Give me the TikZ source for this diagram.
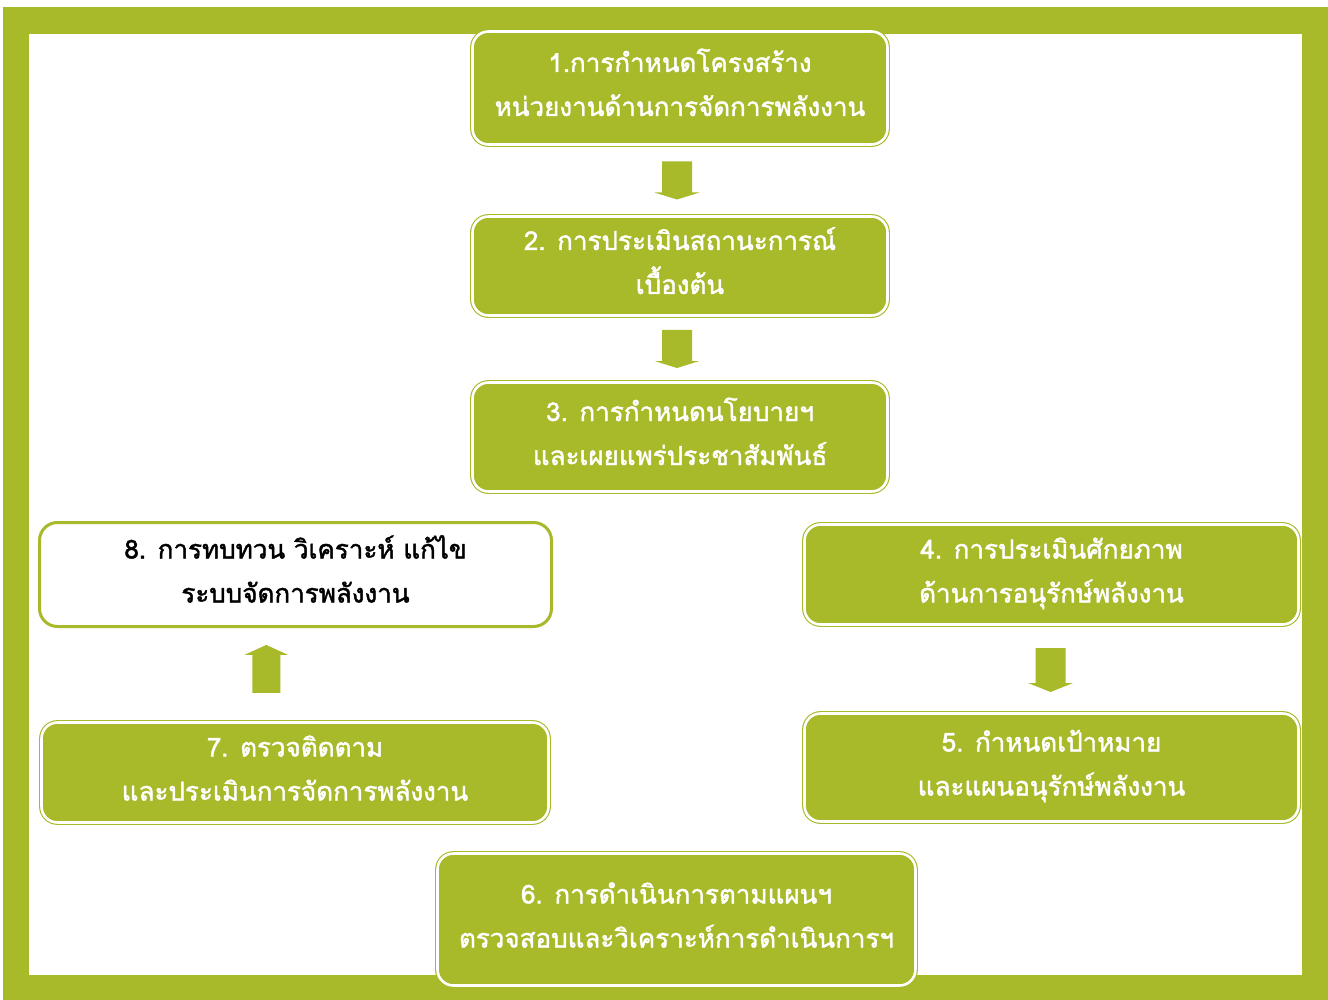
\documentclass[tikz,border=0pt]{standalone}
\usepackage{fontspec}
\usetikzlibrary{calc}
\newfontfamily\thaifont[Script=Thai,FakeBold=1.6]{Loma}
\definecolor{leaf}{RGB}{168,185,41}
\tikzset{
  steptext/.style={align=center, inner sep=0pt, text height=62pt, text depth=6pt,
    font=\thaifont\fontsize{26}{44}\selectfont},
  greenbox/.style={steptext, rounded corners=16pt, draw=leaf, double=white,
    double distance=2.6pt, line width=1.1pt, fill=leaf, text=white},
  whitebox/.style={steptext, rounded corners=18pt, draw=leaf, line width=3pt,
    fill=white, text=black},
  blockfill/.style={fill=leaf, draw=none}
}
% block arrow pointing down: centre c, half length l, head depth h
\newcommand{\downarrowat}[3]{%
  \fill[blockfill] ($(#1)+(-15,-#2)$) -- ($(#1)+(15,-#2)$) -- ($(#1)+(15,#2-#3)$)
    -- ($(#1)+(22.5,#2-#3)$) -- ($(#1)+(0,#2)$) -- ($(#1)+(-22.5,#2-#3)$)
    -- ($(#1)+(-15,#2-#3)$) -- cycle;}
% block arrow pointing up
\newcommand{\uparrowat}[3]{%
  \fill[blockfill] ($(#1)+(-14,#2)$) -- ($(#1)+(14,#2)$) -- ($(#1)+(14,-#2+#3)$)
    -- ($(#1)+(22,-#2+#3)$) -- ($(#1)+(0,-#2)$) -- ($(#1)+(-22,-#2+#3)$)
    -- ($(#1)+(-14,-#2+#3)$) -- cycle;}
\begin{document}
\begin{tikzpicture}[x=1pt,y=-1pt]
  % page and frame
  \fill[white] (0,0) rectangle (1328,1000);
  \fill[leaf] (3,7) rectangle (1328,1000);
  \fill[white] (29,34) rectangle (1302,975);

  % steps
  \node[greenbox, minimum width=415pt, minimum height=113pt] (b1) at (680,88)
    {1.การกำหนดโครงสร้าง\\หน่วยงานด้านการจัดการพลังงาน};
  \node[greenbox, minimum width=415pt, minimum height=99pt] (b2) at (680,266)
    {2. การประเมินสถานะการณ์\\เบื้องต้น};
  \node[greenbox, minimum width=415pt, minimum height=109pt] (b3) at (680,437)
    {3. การกำหนดนโยบายฯ\\และเผยแพร่ประชาสัมพันธ์};
  \node[greenbox, minimum width=494pt, minimum height=100pt] (b4) at (1051.5,574.5)
    {4. การประเมินศักยภาพ\\ด้านการอนุรักษ์พลังงาน};
  \node[greenbox, minimum width=494pt, minimum height=108pt] (b5) at (1051.5,767.5)
    {5. กำหนดเป้าหมาย\\และแผนอนุรักษ์พลังงาน};
  \node[greenbox, minimum width=478pt, minimum height=132pt] (b6) at (676.5,919.5)
    {6. การดำเนินการตามแผนฯ\\ตรวจสอบและวิเคราะห์การดำเนินการฯ};
  \node[greenbox, minimum width=507pt, minimum height=100pt] (b7) at (295,772.5)
    {7. ตรวจติดตาม\\และประเมินการจัดการพลังงาน};
  \node[whitebox, minimum width=512pt, minimum height=104pt] (b8) at (295.5,574.5)
    {8. การทบทวน วิเคราะห์ แก้ไข\\ระบบจัดการพลังงาน};

  % block arrows between steps
  \coordinate (a12) at ($(b1.south)!0.5!(b2.north)+(-3,0)$);
  \coordinate (a23) at ($(b2.south)!0.5!(b3.north)+(-3,0)$);
  \coordinate (a45) at ($(b4.south)!0.5!(b5.north)+(-1,1)$);
  \coordinate (a78) at ($(b7.north)!0.5!(b8.south)+(-29,-6)$);
  \downarrowat{a12}{19}{7}
  \downarrowat{a23}{19}{7}
  \downarrowat{a45}{22}{9}
  \uparrowat{a78}{24}{10}
\end{tikzpicture}
\end{document}
